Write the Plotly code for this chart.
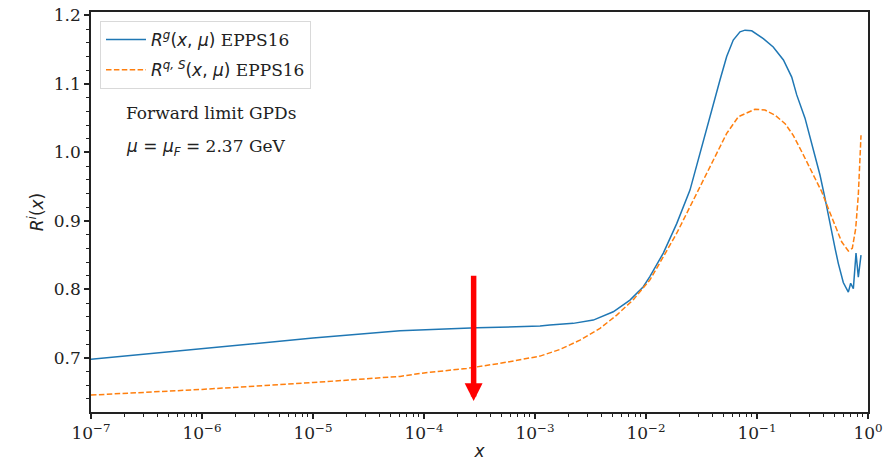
import numpy as np
import plotly.graph_objects as go

# Gluon ratio R^g (blue, solid)
x_g = [1e-7, 1e-6, 1e-5, 6.08e-5, 1e-4, 3e-4, 1.11e-3, 1.36e-3, 2.21e-3, 3.35e-3, 5.07e-3, 7.17e-3,
       9.46e-3, 1.086e-2, 1.432e-2, 1.891e-2, 2.49e-2, 3.063e-2, 3.64e-2, 4.036e-2,
       4.645e-2, 5.333e-2, 6.11e-2, 7.03e-2, 7.8e-2, 8.96e-2, 0.114, 0.140, 0.173, 0.2055, 0.228,
       0.2707, 0.3215, 0.3694, 0.410, 0.455, 0.505, 0.540, 0.599, 0.665, 0.698, 0.738, 0.780,
       0.818, 0.865]
r_g = [0.698, 0.714, 0.729, 0.7396, 0.741, 0.744, 0.7464, 0.748, 0.7504, 0.7552, 0.7673, 0.7844,
       0.804, 0.819, 0.853, 0.896, 0.945, 0.9985, 1.047, 1.072,
       1.106, 1.140, 1.164, 1.176, 1.1785, 1.1775, 1.166, 1.154, 1.135, 1.110, 1.084,
       1.050, 1.006, 0.967, 0.933, 0.894, 0.860, 0.838, 0.810, 0.796, 0.809, 0.801, 0.853,
       0.818, 0.850]

# Quark singlet ratio R^{q,S} (orange, dashed)
x_q = [1e-7, 1e-6, 1e-5, 6.08e-5, 1e-4, 2.42e-4, 4.84e-4, 1.11e-3, 1.68e-3, 2.54e-3, 3.85e-3,
       5.45e-3, 7.69e-3, 1.086e-2, 1.432e-2, 1.891e-2, 2.49e-2, 3.282e-2, 4.335e-2, 5.333e-2,
       6.79e-2, 9.59e-2, 0.118, 0.145, 0.179, 0.212, 0.253, 0.290, 0.333, 0.383, 0.439, 0.505,
       0.579, 0.665, 0.722, 0.775, 0.818, 0.865]
r_q = [0.6457, 0.654, 0.664, 0.673, 0.678, 0.6846, 0.692, 0.7026, 0.7124, 0.7259, 0.7431,
       0.7625, 0.785, 0.814, 0.8476, 0.882, 0.9206, 0.9596, 0.9985, 1.0277,
       1.052, 1.063, 1.0618, 1.0545, 1.042, 1.025, 1.001, 0.9815, 0.962, 0.9425, 0.918, 0.894,
       0.8695, 0.856, 0.860, 0.889, 0.938, 1.025]

x_tick_vals = [1e-7, 1e-6, 1e-5, 1e-4, 1e-3, 1e-2, 1e-1, 1e0]
x_tick_text = ["10<sup>−7</sup>", "10<sup>−6</sup>", "10<sup>−5</sup>", "10<sup>−4</sup>",
               "10<sup>−3</sup>", "10<sup>−2</sup>", "10<sup>−1</sup>", "10<sup>0</sup>"]
y_tick_vals = [0.7, 0.8, 0.9, 1.0, 1.1, 1.2]

arrow_x = 2.8e-4
arrow_y_start = 0.822
arrow_y_end = 0.637

SERIF = "DejaVu Serif"
SANS = "DejaVu Sans"
FS = 17
INK = "#222"

W, H = 884, 461
PL, PT, PR, PB = 91, 12, 868, 412  # plot-area edges in page pixels
PW, PH = PR - PL, PB - PT


def px_x(v):
    return (v - PL) / PW


def px_y(v):
    return (PB - v) / PH


def math(s):
    return f'<span style="font-family:{SANS}">{s}</span>'


fig = go.Figure()
fig.add_trace(go.Scatter(
    x=x_g, y=r_g, mode="lines", legendgroup="g",
    line=dict(color="#1f77b4", width=1.5),
    name=math("<i>R</i><sup><i>g</i></sup>(<i>x</i>, <i>μ</i>)") + " EPPS16",
))
fig.add_trace(go.Scatter(
    x=x_q, y=r_q, mode="lines", legendgroup="q",
    line=dict(color="#ff7f0e", width=1.5, dash="5.5px,2.4px"),
    name=math("<i>R</i><sup><i>q, S</i></sup>(<i>x</i>, <i>μ</i>)") + " EPPS16",
))

fig.add_annotation(
    x=np.log10(arrow_x), y=arrow_y_end, ax=np.log10(arrow_x), ay=arrow_y_start,
    xref="x", yref="y", axref="x", ayref="y", text="",
    showarrow=True, arrowhead=2, arrowwidth=5.5, arrowsize=0.65, arrowcolor="#ff0000",
)
fig.add_annotation(
    x=px_x(124), y=px_y(113), xref="paper", yref="paper",
    xanchor="left", yanchor="middle",
    text="Forward limit GPDs", showarrow=False, font=dict(family=SERIF, size=FS, color=INK),
)
fig.add_annotation(
    x=px_x(124), y=px_y(147), xref="paper", yref="paper",
    xanchor="left", yanchor="middle",
    text=math("<i>μ</i> = <i>μ</i><sub><i>F</i></sub> =") + " 2.37 GeV",
    showarrow=False, font=dict(family=SERIF, size=FS, color=INK),
)

fig.update_layout(
    width=W, height=H,
    margin=dict(l=PL, r=W - PR, t=PT, b=H - PB),
    paper_bgcolor="white", plot_bgcolor="white",
    font=dict(family=SERIF, size=FS, color=INK),
    showlegend=True,
    legend=dict(
        x=px_x(100), y=px_y(21), xanchor="left", yanchor="top",
        bgcolor="rgba(255,255,255,0.8)", bordercolor="#d9d9d9", borderwidth=1,
        font=dict(family=SERIF, size=FS, color=INK),
        tracegroupgap=5, itemwidth=40,
    ),
)
fig.update_xaxes(
    type="log", range=[-7, 0], automargin=False, ticklabeloverflow="allow",
    tickmode="array", tickvals=x_tick_vals, ticktext=x_tick_text,
    ticks="outside", ticklen=5, tickwidth=1.5, tickcolor=INK,
    minor=dict(ticks="outside", ticklen=3, tickwidth=1, tickcolor=INK, dtick="D1", showgrid=False),
    showline=True, linecolor=INK, linewidth=1.5, mirror=True,
    showgrid=False, zeroline=False,
    tickfont=dict(family=SERIF, size=FS, color=INK),
    title=dict(text="<i>x</i>", font=dict(family=SANS, size=FS, color=INK), standoff=4),
)
fig.update_yaxes(
    range=[0.621, 1.205], automargin=False, ticklabeloverflow="allow",
    tickmode="array", tickvals=y_tick_vals, tickformat=".1f",
    ticks="outside", ticklen=5, tickwidth=1.5, tickcolor=INK,
    minor=dict(ticks="outside", ticklen=3, tickwidth=1, tickcolor=INK, dtick=0.02, tick0=0.6, showgrid=False),
    showline=True, linecolor=INK, linewidth=1.5, mirror=True,
    showgrid=False, zeroline=False,
    tickfont=dict(family=SERIF, size=FS, color=INK),
    title=dict(text="<i>R</i><sup><i>i</i></sup>(<i>x</i>)", font=dict(family=SANS, size=FS, color=INK), standoff=6),
)

# remove the browser's default 8px page margin so the figure fills the window exactly
fig.write_html(
    "out.html",
    config={"displayModeBar": False},
    post_script="document.body.style.margin='0px';document.body.style.overflow='hidden';",
)
